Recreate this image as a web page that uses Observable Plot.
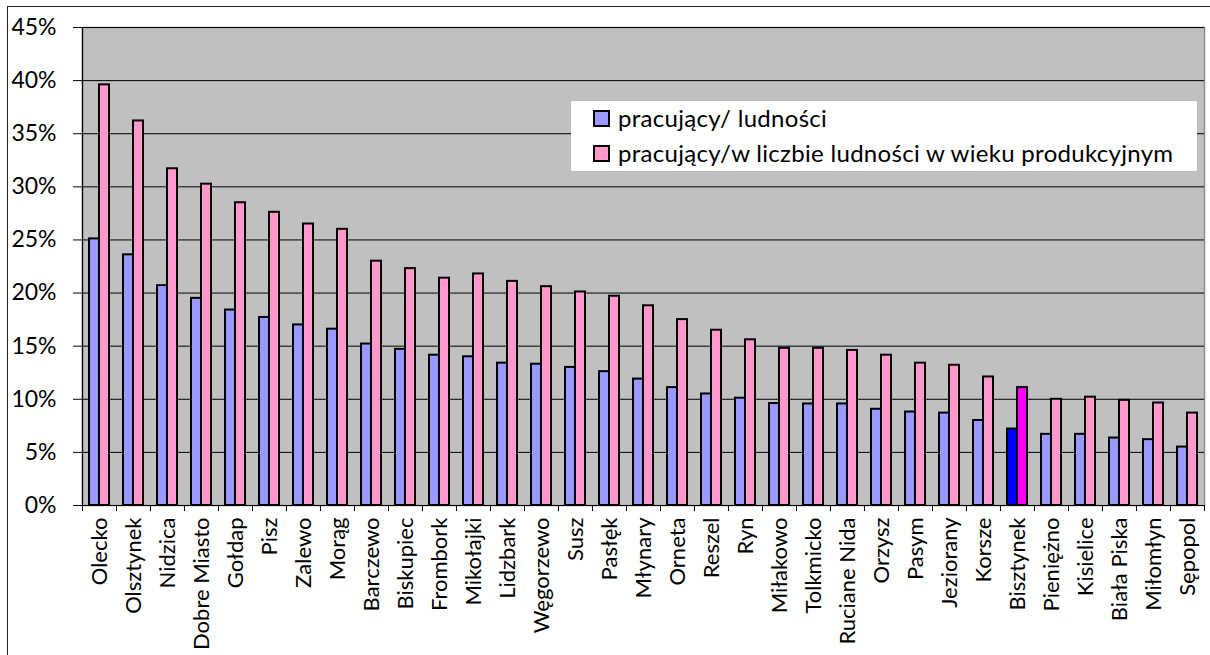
<!DOCTYPE html>
<html>
<head>
<meta charset="utf-8">
<script src="https://cdn.jsdelivr.net/npm/d3@7"></script>
<script src="https://cdn.jsdelivr.net/npm/@observablehq/plot@0.6"></script>
<style>
  html, body { margin: 0; padding: 0; background: #fff; overflow: hidden; }
  #wrap { position: relative; width: 1210px; height: 655px; overflow: hidden; font-family: Lato, sans-serif; }
  #border { position: absolute; left: 7px; top: 6px; width: 1400px; height: 900px; border: 1px solid #222; box-sizing: border-box; pointer-events: none; }
  #chart { position: absolute; left: 0; top: 0; }
  #legend { position: absolute; left: 571px; top: 101px; width: 626px; height: 70px; background: #fff; font-family: Lato, sans-serif; font-size: 24px; letter-spacing: 0.3px; color: #000; }
  .item { position: absolute; left: 22px; display: flex; align-items: center; white-space: nowrap; line-height: 28px; }
  .sw { width: 13px; height: 13px; border: 2px solid #000; margin-right: 8px; }
</style>
</head>
<body>
<div id="wrap">
  <div id="border"></div>
  <div id="chart"></div>
  <div id="legend"></div>
</div>
<script>
const cities = ["Olecko","Olsztynek","Nidzica","Dobre Miasto","Gołdap","Pisz","Zalewo","Morąg","Barczewo","Biskupiec","Frombork","Mikołajki","Lidzbark","Węgorzewo","Susz","Pasłęk","Młynary","Orneta","Reszel","Ryn","Miłakowo","Tolkmicko","Ruciane Nida","Orzysz","Pasym","Jeziorany","Korsze","Bisztynek","Pieniężno","Kisielice","Biała Piska","Miłomłyn","Sępopol"];
const perPopulation = [25.1,23.6,20.7,19.5,18.4,17.7,17.0,16.6,15.2,14.7,14.15,14.0,13.4,13.3,13.0,12.6,11.9,11.1,10.5,10.1,9.6,9.56,9.56,9.06,8.8,8.7,8.0,7.2,6.7,6.7,6.35,6.2,5.5];
const perWorkingAge = [39.6,36.2,31.7,30.25,28.5,27.6,26.5,26.0,23.0,22.3,21.4,21.8,21.1,20.6,20.1,19.7,18.8,17.5,16.5,15.6,14.8,14.8,14.6,14.15,13.4,13.2,12.1,11.1,10.0,10.2,9.9,9.65,8.7];
const yTicks = [0,5,10,15,20,25,30,35,40,45];
const seriesNames = ["pracujący/ ludności", "pracujący/w liczbie ludności w wieku produkcyjnym"];
const seriesColors = ["#9999FF", "#FF99CC"];
const highlightCity = "Bisztynek";
const highlightColors = ["#0000FF", "#FF00FF"];

const data = cities.map((c, i) => ({city: c, a: perPopulation[i], b: perWorkingAge[i]}));

const plot = Plot.plot({
  width: 1210,
  height: 655,
  marginLeft: 82,
  marginRight: 6,
  marginTop: 27,
  marginBottom: 150,
  style: {fontFamily: "Lato, sans-serif", fontSize: "22px", background: "transparent", color: "#000", overflow: "visible"},
  x: {domain: cities, padding: 0, axis: null, label: null},
  y: {domain: [0, 45], axis: null, label: null},
  color: {type: "identity"},
  marks: [
    Plot.frame({fill: "#C0C0C0", stroke: "#8c8c8c", strokeWidth: 1.5}),
    Plot.gridY(yTicks, {stroke: "#000", strokeOpacity: 1, strokeWidth: 1}),
    Plot.barY(data, {x: "city", y: "a", fill: d => d.city === highlightCity ? highlightColors[0] : seriesColors[0], stroke: "#000", strokeWidth: 2, insetLeft: 7, insetRight: 17}),
    Plot.barY(data, {x: "city", y: "b", fill: d => d.city === highlightCity ? highlightColors[1] : seriesColors[1], stroke: "#000", strokeWidth: 2, insetLeft: 17, insetRight: 7}),
    Plot.ruleX([cities[0]], {dx: -17, stroke: "#000", strokeWidth: 1.2}),
    Plot.axisY(yTicks, {tickFormat: d => d + "%", tickSize: 9, tickPadding: 17, fontSize: 23, stroke: "#000", label: null}),
    Plot.axisX(cities, {tickFormat: () => "", tickSize: 6, dx: -17, stroke: "#000", label: null}),
    Plot.axisX([cities[cities.length - 1]], {tickFormat: () => "", tickSize: 6, dx: 17, stroke: "#000", label: null}),
    Plot.axisX(cities, {tickSize: 0, tickPadding: 12, tickRotate: -90, fontSize: 22, label: null})
  ]
});
document.getElementById("chart").appendChild(plot);

const legend = document.getElementById("legend");
seriesNames.forEach((name, i) => {
  const item = document.createElement("div");
  item.className = "item";
  item.style.top = (i === 0 ? 3 : 38) + "px";
  const sw = document.createElement("div");
  sw.className = "sw";
  sw.style.background = seriesColors[i];
  const t = document.createElement("span");
  t.textContent = name;
  item.appendChild(sw);
  item.appendChild(t);
  legend.appendChild(item);
});
</script>
</body>
</html>
